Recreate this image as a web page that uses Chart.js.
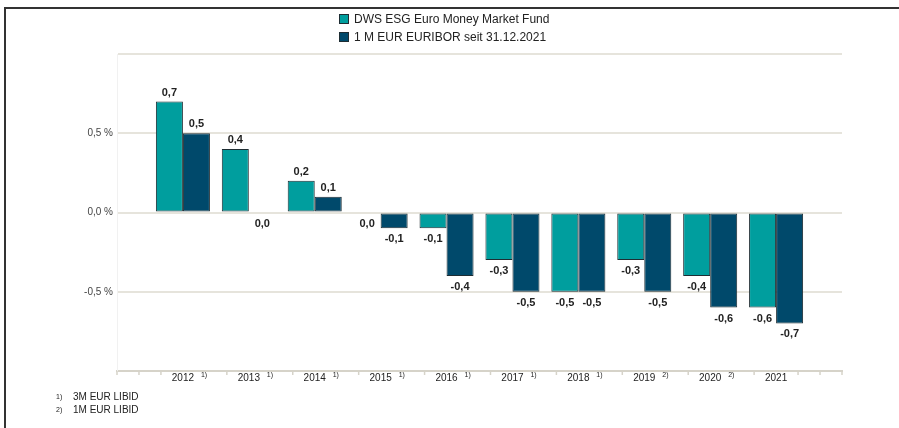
<!DOCTYPE html>
<html><head><meta charset="utf-8">
<script src="https://cdn.jsdelivr.net/npm/chart.js@4.4.1/dist/chart.umd.min.js"></script>
<style>
html,body{margin:0;padding:0;background:#fff;}
#wrap{position:relative;width:899px;height:428px;overflow:hidden;font-family:"Liberation Sans",Arial,sans-serif;}
#frame{position:absolute;left:4px;top:7px;right:-4px;bottom:-4px;border-top:2px solid #333;border-left:2px solid #333;}
canvas{position:absolute;left:0;top:0;}
#legend{position:absolute;left:339px;top:10px;font-size:12px;color:#222;}
.li{display:flex;align-items:center;height:18px;white-space:nowrap;}
.sw{width:8px;height:8px;border:1px solid #1e2d33;margin-right:5px;}
#notes{position:absolute;left:56px;top:390px;font-size:10px;color:#222;}
.note{height:13px;line-height:13px;white-space:nowrap;}
.note .m{display:inline-block;width:17px;font-size:7px;vertical-align:1px;}
</style>
</head><body>
<div id="wrap">
<div id="frame"></div>
<canvas id="c" width="899" height="428"></canvas>
<div id="legend"></div>
<div id="notes"></div>
</div>
<script>
const categories = ['', '2012', '2013', '2014', '2015', '2016', '2017', '2018', '2019', '2020', '2021', ''];
const footnoteMarks = ['', '1)', '1)', '1)', '1)', '1)', '1)', '1)', '2)', '2)', '', ''];
const fundLabel = 'DWS ESG Euro Money Market Fund';
const euriborLabel = '1 M EUR EURIBOR seit 31.12.2021';
const fundValues = [null, 0.7, 0.4, 0.2, 0.0, -0.1, -0.3, -0.5, -0.3, -0.4, -0.6, null];
const euriborValues = [null, 0.5, 0.0, 0.1, -0.1, -0.4, -0.5, -0.5, -0.5, -0.6, -0.7, null];
const yTickValues = [-0.5, 0.0, 0.5];
const footnotes = [['1)', '3M EUR LIBID'], ['2)', '1M EUR LIBID']];
const fundColor = '#009e9e';
const euriborColor = '#00496b';

const fmt = v => v.toFixed(1).replace('-0.0', '0.0').replace('.', ',');

const extras = {
  id: 'extras',
  afterDatasetsDraw(chart) {
    const ctx = chart.ctx;
    ctx.save();
    ctx.font = 'bold 11px "Liberation Sans", Arial, sans-serif';
    ctx.fillStyle = '#222';
    ctx.textAlign = 'center';
    ctx.textBaseline = 'alphabetic';
    chart.data.datasets.forEach((ds, di) => {
      chart.getDatasetMeta(di).data.forEach((bar, i) => {
        const v = ds.data[i];
        if (v === null || v === undefined) return;
        if (v > 0) ctx.fillText(fmt(v), bar.x, bar.y - 6);
        else ctx.fillText(fmt(v), bar.x, bar.y + 14);
      });
    });
    ctx.restore();
  },
  afterDraw(chart) {
    const ctx = chart.ctx, x = chart.scales.x, ca = chart.chartArea;
    const n = categories.length;
    const s = x.getPixelForValue(1) - x.getPixelForValue(0);
    const y0 = ca.bottom;
    ctx.save();
    ctx.strokeStyle = '#d6d3c9';
    ctx.lineWidth = 1.5;
    const pos = [x.getPixelForValue(0), x.getPixelForValue(0) + s / 3];
    for (let i = 1; i < n; i++) pos.push(x.getPixelForValue(i) - s / 3);
    pos.push(x.getPixelForValue(n - 2) + s / 3, x.getPixelForValue(n - 1));
    pos.forEach(p => {
      ctx.beginPath();
      ctx.moveTo(p, y0);
      ctx.lineTo(p, y0 + 4);
      ctx.stroke();
    });
    ctx.font = '7px "Liberation Sans", Arial, sans-serif';
    ctx.fillStyle = '#222';
    ctx.textAlign = 'left';
    ctx.textBaseline = 'middle';
    footnoteMarks.forEach((m, i) => {
      if (m) ctx.fillText(m, x.getPixelForValue(i) + 18, y0 + 4);
    });
    ctx.restore();
  }
};

Chart.defaults.font.family = '"Liberation Sans", Arial, sans-serif';

new Chart(document.getElementById('c'), {
  type: 'bar',
  data: {
    labels: categories,
    datasets: [
      { label: fundLabel, data: fundValues, backgroundColor: fundColor, borderColor: '#1e2d33', borderWidth: 1, borderSkipped: false },
      { label: euriborLabel, data: euriborValues, backgroundColor: euriborColor, borderColor: '#1e2d33', borderWidth: 1, borderSkipped: false }
    ]
  },
  options: {
    responsive: false,
    animation: false,
    layout: { padding: { top: 54, right: 57, left: 0, bottom: 0 } },
    datasets: { bar: { categoryPercentage: 0.82, barPercentage: 1.0 } },
    plugins: { legend: { display: false }, tooltip: { enabled: false } },
    scales: {
      x: {
        offset: false,
        grid: { display: false, drawTicks: false },
        border: { display: true, color: '#d6d3c9', width: 2 },
        ticks: { color: '#222', font: { size: 10 }, padding: 1, maxRotation: 0, autoSkip: false },
        afterFit(scale) { scale.height = 57; }
      },
      y: {
        min: -1, max: 1,
        ticks: {
          stepSize: 0.5, color: '#444', font: { size: 10 }, padding: 4,
          callback: v => yTickValues.some(t => Math.abs(t - v) < 1e-9) ? fmt(v) + ' %' : ''
        },
        grid: { color: '#e6e4dc', lineWidth: 2, drawTicks: false },
        border: { display: true, color: '#f1f1f1', width: 1 },
        afterFit(scale) { scale.width = 117; }
      }
    }
  },
  plugins: [extras]
});

const legend = document.getElementById('legend');
[[fundLabel, fundColor], [euriborLabel, euriborColor]].forEach(([t, c]) => {
  const d = document.createElement('div'); d.className = 'li';
  const sw = document.createElement('span'); sw.className = 'sw'; sw.style.background = c;
  const tx = document.createElement('span'); tx.textContent = t;
  d.appendChild(sw); d.appendChild(tx); legend.appendChild(d);
});
const notes = document.getElementById('notes');
footnotes.forEach(([m, t]) => {
  const d = document.createElement('div'); d.className = 'note';
  const ms = document.createElement('span'); ms.className = 'm'; ms.textContent = m;
  const tx = document.createElement('span'); tx.textContent = t;
  d.appendChild(ms); d.appendChild(tx); notes.appendChild(d);
});
</script>
</body></html>
